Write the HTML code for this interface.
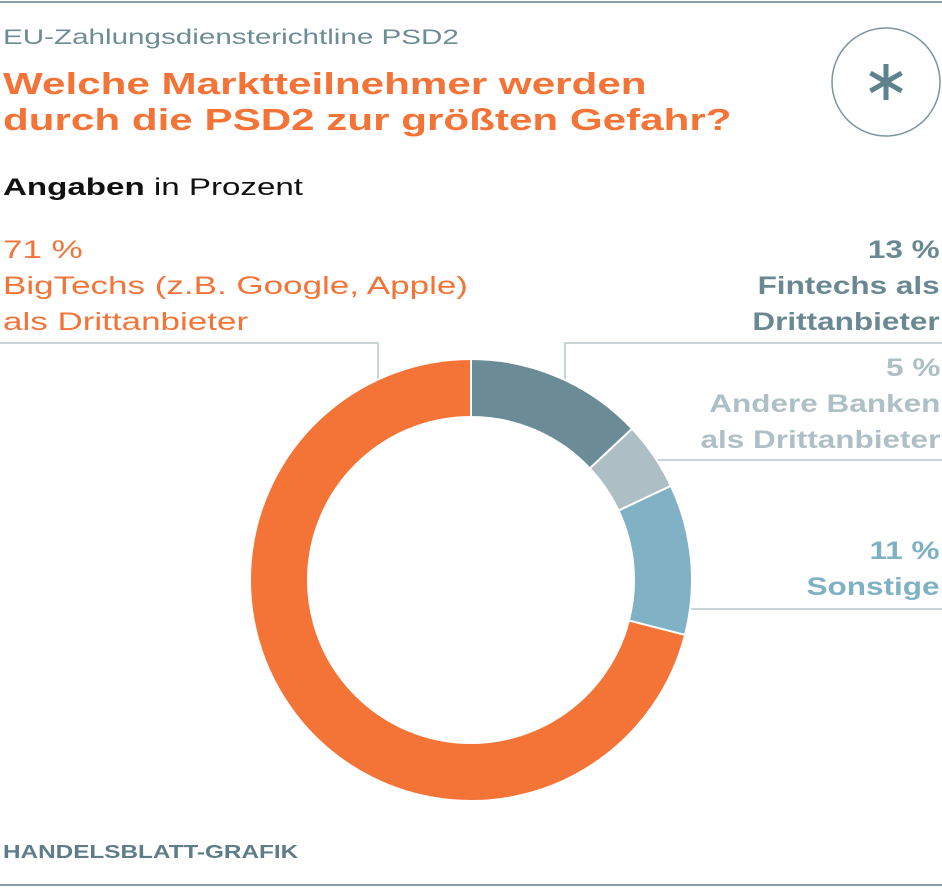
<!DOCTYPE html>
<html><head><meta charset="utf-8"><style>
body{margin:0;width:942px;height:888px;background:#fff;font-family:"Liberation Sans",sans-serif;position:relative;overflow:hidden}
.t{position:absolute;white-space:nowrap;transform-origin:0 0}
.r{transform-origin:100% 0;text-align:right;font-weight:bold}
</style></head><body>
<div style="position:absolute;left:0;top:1px;width:942px;height:2px;background:#8a9ea5"></div>
<div style="position:absolute;left:0;top:884px;width:942px;height:2px;background:#8a9ea5"></div>
<div class="t" style="left:3px;top:26px;font-size:21px;color:#6e8c96;transform:scaleX(1.41)">EU-Zahlungsdienstericht­line PSD2</div>
<div class="t" style="left:3px;top:66px;font-size:31px;line-height:36px;font-weight:bold;color:#f47438;transform:scaleX(1.36)">Welche Marktteilnehmer werden<br>durch die PSD2 zur größten Gefahr?</div>
<div class="t" style="left:3px;top:174px;font-size:24px;color:#111;transform:scaleX(1.38)"><span style="font-weight:bold">Angaben</span> in Prozent</div>
<div class="t" style="left:3px;top:232px;font-size:25px;line-height:36px;color:#f47438;transform:scaleX(1.4)">71 %<br>BigTechs (z.B. Google, Apple)<br>als Drittanbieter</div>
<div class="t r" style="right:2px;top:232px;font-size:25px;line-height:36px;color:#6a8892;transform:scaleX(1.26)">13 %<br>Fintechs als<br>Drittanbieter</div>
<div class="t r" style="right:2px;top:350px;font-size:25px;line-height:36px;color:#aebfc5;transform:scaleX(1.26)">5 %<br>Andere Banken<br>als Drittanbieter</div>
<div class="t r" style="right:2px;top:533px;font-size:25px;line-height:36px;color:#7fb1c4;transform:scaleX(1.26)">11 %<br>Sonstige</div>
<div class="t" style="left:3px;top:842px;font-size:18px;font-weight:bold;color:#5f7d88;transform:scaleX(1.35)">HANDELSBLATT-GRAFIK</div>
<svg width="942" height="888" style="position:absolute;left:0;top:0">
<circle cx="886" cy="82" r="54" fill="none" stroke="#7a959d" stroke-width="1.5"/>
<g stroke="#5f838c" stroke-width="5" stroke-linecap="butt">
<line x1="886" y1="64" x2="886" y2="100"/>
<line x1="870.4" y1="73" x2="901.6" y2="91"/>
<line x1="870.4" y1="91" x2="901.6" y2="73"/>
</g>
<g fill="none" stroke="#b9c6ca" stroke-width="1.5">
<polyline points="0,343 378,343 378,380"/>
<polyline points="942,343 565,343 565,380"/>
<line x1="650" y1="460" x2="942" y2="460"/>
<line x1="680" y1="609" x2="942" y2="609"/>
</g>
<g stroke="#fff" stroke-width="2" id="d"></g>
</svg>
<script>
var cx=471,cy=580,R=221,r=163,vals=[[13,'#6b8c96'],[5,'#adbfc5'],[11,'#80b1c4'],[71,'#f47438']];
var a=0,g=document.getElementById('d'),s='';
function p(rad,ang){return [cx+rad*Math.sin(ang),cy-rad*Math.cos(ang)];}
vals.forEach(function(v){var b=a+v[0]/100*2*Math.PI,l=(b-a)>Math.PI?1:0;
var A=p(R,a),B=p(R,b),C=p(r,b),D=p(r,a);
s+='<path fill="'+v[1]+'" d="M'+A+' A'+R+','+R+' 0 '+l+' 1 '+B+' L'+C+' A'+r+','+r+' 0 '+l+' 0 '+D+'Z"/>';a=b;});
g.innerHTML=s;
</script>
</body></html>
